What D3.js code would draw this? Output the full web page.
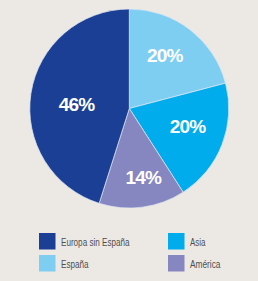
<!DOCTYPE html>
<html>
<head>
<meta charset="utf-8">
<script src="https://cdn.jsdelivr.net/npm/d3@7"></script>
<style>
  html, body { margin: 0; padding: 0; background: #ece9e5; }
  svg { display: block; }
</style>
</head>
<body>
<svg id="chart" width="258" height="281"></svg>
<script>
// datos del gráfico (orden de dibujo, horario desde arriba)
var categories = ["España", "Asia", "América", "Europa sin España"];
var shares = [20.9, 20.0, 14.0, 45.1];
var labels = ["20%", "20%", "14%", "46%"];
var colors = ["#7ecef2", "#00acec", "#8686c0", "#1b3f94"];

// orden de la leyenda
var legendOrder = ["Europa sin España", "España", "Asia", "América"];

var width = 258, height = 281;
var cx = 129.3, cy = 108.5, radius = 99.5;
// distancia de las etiquetas al centro, por porción
var labelRadius = [64, 61, 70, 53];
var labelShift = -4 * Math.PI / 180;

var svg = d3.select("#chart");
var g = svg.append("g").attr("transform", "translate(" + cx + "," + cy + ")");

var color = d3.scaleOrdinal().domain(categories).range(colors);

var pie = d3.pie().sort(null).value(function(d) { return d.value; });
var data = categories.map(function(c, i) {
  return { name: c, value: shares[i], label: labels[i] };
});
var arcs = pie(data);

var arc = d3.arc().innerRadius(0).outerRadius(radius);

g.selectAll("path")
  .data(arcs)
  .enter()
  .append("path")
  .attr("d", arc)
  .attr("fill", function(d) { return color(d.data.name); })
  .attr("stroke", "#dfe6f0")
  .attr("stroke-width", 0.7);

g.selectAll("text.pct")
  .data(arcs)
  .enter()
  .append("text")
  .attr("class", "pct")
  .attr("transform", function(d, i) {
    var a = (d.startAngle + d.endAngle) / 2 + labelShift;
    var r = labelRadius[i];
    return "translate(" + (r * Math.sin(a)) + "," + (-r * Math.cos(a)) + ")";
  })
  .attr("text-anchor", "middle")
  .attr("dy", "0.36em")
  .attr("font-family", "Liberation Sans, Arial, sans-serif")
  .attr("font-weight", "bold")
  .attr("font-size", 19)
  .attr("letter-spacing", -0.8)
  .attr("fill", "#ffffff")
  .text(function(d) { return d.data.label; });

// leyenda
var legendX = [39, 168];
var legendY = [233, 255];
var textWidths = { "Europa sin España": 68.5, "España": 27.5, "Asia": 15.5, "América": 30.5 };

var legend = svg.selectAll("g.legend")
  .data(legendOrder)
  .enter()
  .append("g")
  .attr("class", "legend")
  .attr("transform", function(d, i) {
    return "translate(" + legendX[Math.floor(i / 2)] + "," + legendY[i % 2] + ")";
  });

legend.append("rect")
  .attr("width", 16.5)
  .attr("height", 16.5)
  .attr("fill", function(d) { return color(d); });

legend.append("text")
  .attr("x", 22)
  .attr("y", 12.5)
  .attr("font-family", "Liberation Sans, Arial, sans-serif")
  .attr("font-size", 11.5)
  .attr("fill", "#4f4f4f")
  .attr("textLength", function(d) { return textWidths[d]; })
  .attr("lengthAdjust", "spacingAndGlyphs")
  .text(function(d) { return d; });
</script>
</body>
</html>
